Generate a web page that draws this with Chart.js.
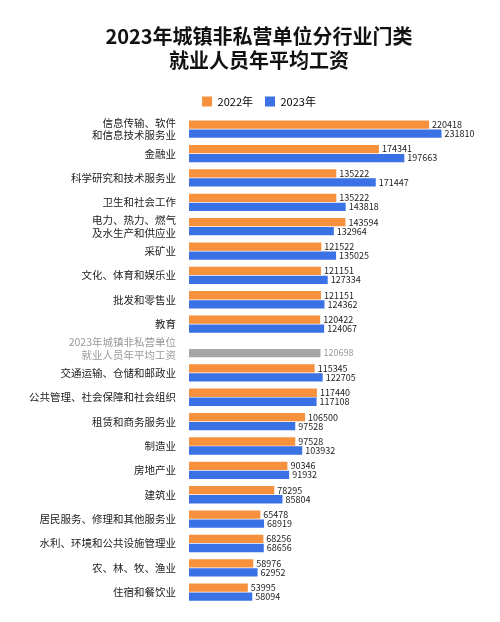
<!DOCTYPE html>
<html><head><meta charset="utf-8">
<script src="https://cdn.jsdelivr.net/npm/chart.js@4"></script>
<style>html,body{margin:0;padding:0;background:#fff}#w{width:500px;height:622px}</style>
</head><body><div id="w"><canvas id="c"></canvas></div>
<script>
const categories=[["信息传输、软件","和信息技术服务业"],"金融业","科学研究和技术服务业","卫生和社会工作",["电力、热力、燃气","及水生产和供应业"],"采矿业","文化、体育和娱乐业","批发和零售业","教育",["2023年城镇非私营单位","就业人员年平均工资"],"交通运输、仓储和邮政业","公共管理、社会保障和社会组织","租赁和商务服务业","制造业","房地产业","建筑业","居民服务、修理和其他服务业","水利、环境和公共设施管理业","农、林、牧、渔业","住宿和餐饮业"];
const values2022=[220418,174341,135222,135222,143594,121522,121151,121151,120422,null,115345,117440,106500,97528,90346,78295,65478,68256,58976,53995];
const values2023=[231810,197663,171447,143818,132964,135025,127334,124362,124067,120698,122705,117108,97528,103932,91932,85804,68919,68656,62952,58094];
const avgIndex=9;
const ORANGE='#F7913D',BLUE='#3A72E6',GRAY='#A6A6A6';
const labelPlugin={id:'vl',afterDatasetsDraw(ch){const ctx=ch.ctx;ctx.save();ctx.font='9px "Noto Sans CJK SC"';ctx.textBaseline='middle';
ch.data.datasets.forEach((ds,di)=>{ch.getDatasetMeta(di).data.forEach((b,i)=>{const v=ds.data[i];if(v==null)return;ctx.fillStyle=(i===avgIndex)?'#999':'#222';ctx.fillText(v,b.x+3,b.y);});});ctx.restore();}};
new Chart(document.getElementById('c'),{type:'bar',
data:{labels:categories,datasets:[
{label:'2022年',data:values2022,backgroundColor:ORANGE,categoryPercentage:0.74,barPercentage:0.92},
{label:'2023年',data:values2023,backgroundColor:values2023.map((v,i)=>i===avgIndex?GRAY:BLUE),categoryPercentage:0.74,barPercentage:0.92}]},
options:{indexAxis:'y',responsive:true,maintainAspectRatio:false,animation:false,
layout:{padding:{left:24,right:6,bottom:14,top:8}},
plugins:{title:{display:true,text:['2023年城镇非私营单位分行业门类','就业人员年平均工资'],font:{family:'"Noto Sans CJK SC"',size:20,weight:'bold'},color:'#111',padding:{top:16,bottom:12},lineHeight:1.5},
legend:{display:true,labels:{boxWidth:10,boxHeight:10,font:{family:'"Noto Sans CJK SC"',size:11},color:'#222',padding:12,
generateLabels:()=>[{text:'2022年',fillStyle:ORANGE,strokeStyle:ORANGE,lineWidth:0},{text:'2023年',fillStyle:BLUE,strokeStyle:BLUE,lineWidth:0}]}},
tooltip:{enabled:false}},
scales:{x:{display:false,min:0,max:280000},
y:{grid:{display:false},border:{display:false},ticks:{autoSkip:false,font:{family:'"Noto Sans CJK SC"',size:10.5},color:(c)=>c.index===avgIndex?'#999':'#222',padding:5}}}},
plugins:[labelPlugin]});
</script></body></html>
